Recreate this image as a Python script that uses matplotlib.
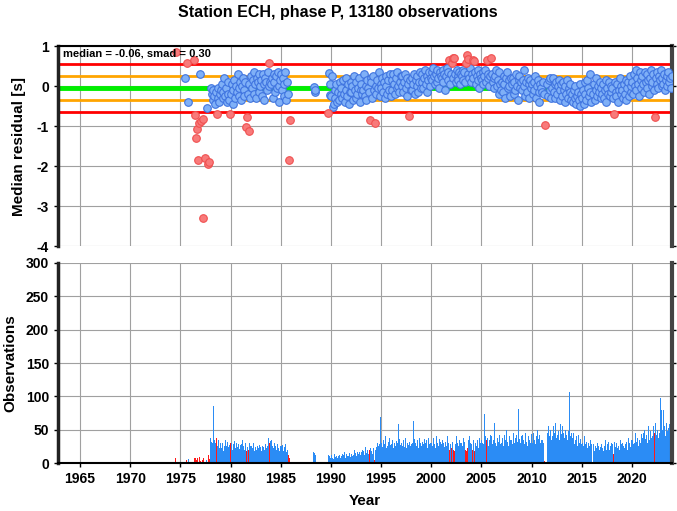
import matplotlib
matplotlib.use("Agg")
import matplotlib.pyplot as plt
import numpy as np

N = None
first_year = 1974
median_res = -0.06
smad_res = 0.30
title = "Station ECH, phase P, 13180 observations"
year_ticks = [1965, 1970, 1975, 1980, 1985, 1990, 1995, 2000, 2005, 2010, 2015, 2020]

# monthly median residuals [s], one row per year
res_1970s = [
    N, N, N, N, N, N, 0.84, N, N, N, N, N,                                  # 1974
    N, N, N, N, N, 0.21, N, 0.57, N, -0.41, N, N,                           # 1975
    N, N, N, N, 0.65, -0.73, -1.30, -1.07, -1.84, N, -0.92, 0.30,           # 1976
    -0.87, N, -0.82, -3.29, N, -1.79, N, -0.54, N, -1.94, -1.90, N,         # 1977
    -0.06, -0.20, -0.35, -0.10, -0.25, -0.45, -0.15, -0.71, -0.30, -0.05, -0.40, -0.20,  # 1978
    -0.10, 0.05, -0.30, -0.15, 0.20, -0.25, -0.05, -0.40, 0.10, -0.20, -0.35, -0.70,     # 1979
]
res_1980s = [
    -0.20, 0.05, -0.45, -0.10, 0.15, -0.30, 0.00, -0.15, 0.30, -0.05, -0.25, 0.10,   # 1980
    -0.35, 0.00, 0.20, -0.10, -0.25, 0.10, -1.03, -0.78, -0.20, -1.13, 0.05, -0.30,  # 1981
    0.25, -0.05, 0.15, -0.20, 0.35, 0.05, -0.30, 0.20, 0.10, -0.15, 0.30, 0.00,      # 1982
    0.15, -0.25, 0.30, 0.05, -0.35, 0.20, 0.10, -0.10, 0.35, 0.00, 0.57, 0.10,       # 1983
    0.05, 0.20, -0.30, 0.30, 0.10, -0.15, 0.25, -0.05, 0.35, 0.00, -0.40, 0.15,      # 1984
    0.30, -0.10, 0.20, -0.25, 0.05, 0.35, -0.35, 0.10, -0.20, -1.85, -0.84, N,       # 1985
    N, N, N, N, N, N, N, N, N, N, N, N,                                              # 1986
    N, N, N, N, N, N, N, N, N, N, N, N,                                              # 1987
    N, N, N, -0.02, -0.14, -0.10, N, N, N, N, N, N,                                  # 1988
    N, N, N, N, N, N, N, N, -0.67, 0.33, -0.22, 0.05,                                # 1989
]
res_1990s = [
    -0.25, 0.26, -0.52, -0.45, -0.10, -0.30, 0.05, -0.40, -0.15, -0.35, 0.10, -0.20,  # 1990
    -0.05, -0.30, 0.15, -0.20, -0.40, 0.20, -0.10, -0.25, 0.05, -0.45, -0.15, 0.10,   # 1991
    -0.15, 0.00, -0.35, 0.25, -0.10, -0.30, 0.10, -0.20, -0.05, 0.20, -0.40, -0.10,   # 1992
    0.05, -0.20, -0.10, 0.30, -0.25, 0.00, -0.35, 0.15, -0.05, -0.15, -0.84, 0.20,    # 1993
    0.10, -0.30, 0.25, -0.10, -0.93, 0.00, -0.20, 0.15, -0.05, 0.35, -0.25, 0.05,     # 1994
    -0.05, 0.20, -0.15, 0.10, -0.30, 0.25, 0.00, -0.20, 0.15, -0.10, 0.30, -0.25,     # 1995
    0.15, -0.10, 0.30, 0.05, -0.20, 0.20, -0.05, 0.35, 0.00, -0.15, 0.10, 0.25,       # 1996
    0.00, 0.25, -0.15, 0.10, 0.30, -0.05, 0.20, -0.25, 0.05, -0.74, 0.15, -0.10,      # 1997
    0.20, -0.10, 0.05, 0.30, -0.20, 0.15, 0.00, 0.25, -0.15, 0.10, 0.35, -0.05,       # 1998
    0.10, 0.30, -0.05, 0.20, 0.40, 0.05, -0.15, 0.25, 0.15, 0.35, 0.00, 0.20,         # 1999
]
res_2000s = [
    0.35, 0.15, 0.45, 0.25, 0.05, 0.30, 0.40, 0.10, 0.20, -0.05, 0.35, 0.25,   # 2000
    0.20, 0.40, 0.10, 0.30, -0.10, 0.25, 0.45, 0.15, 0.35, 0.64, 0.05, 0.30,   # 2001
    0.57, 0.20, 0.69, 0.71, 0.30, 0.10, 0.40, 0.25, 0.15, 0.35, 0.05, 0.30,    # 2002
    0.25, 0.40, 0.15, 0.35, 0.10, 0.57, 0.78, 0.67, 0.30, 0.20, 0.45, 0.10,    # 2003
    0.30, 0.65, 0.20, 0.62, 0.35, 0.05, 0.25, 0.40, 0.15, -0.05, 0.30, 0.20,   # 2004
    0.15, 0.35, 0.05, 0.25, 0.40, 0.10, 0.65, 0.20, 0.30, 0.00, 0.25, 0.71,    # 2005
    0.30, 0.10, 0.20, -0.05, 0.25, 0.40, 0.00, 0.15, -0.20, 0.35, 0.05, -0.10, # 2006
    0.10, -0.15, 0.25, 0.05, -0.30, 0.20, 0.35, -0.05, 0.15, 0.00, -0.25, 0.20, # 2007
    0.05, 0.20, -0.20, 0.10, -0.10, 0.30, 0.00, -0.35, 0.15, 0.25, -0.05, 0.10, # 2008
    -0.10, 0.15, 0.40, 0.00, -0.25, 0.10, -0.15, 0.20, 0.05, -0.30, 0.15, -0.05, # 2009
]
res_2010s = [
    0.05, -0.20, 0.10, -0.10, 0.25, -0.30, 0.00, 0.15, -0.15, -0.40, 0.05, -0.05,    # 2010
    -0.15, 0.10, -0.20, -0.97, N, N, 0.05, -0.25, 0.15, -0.10, 0.20, -0.30,          # 2011
    -0.05, 0.20, -0.15, 0.05, -0.30, 0.10, -0.20, 0.00, 0.15, -0.35, -0.10, 0.05,    # 2012
    -0.25, 0.10, -0.10, -0.40, 0.00, -0.20, 0.15, -0.30, -0.05, -0.15, 0.05, -0.35,  # 2013
    -0.20, -0.40, -0.10, -0.30, 0.00, -0.45, -0.25, -0.15, -0.35, 0.05, -0.50, -0.20, # 2014
    -0.30, -0.10, -0.45, 0.10, -0.20, -0.35, 0.15, -0.05, -0.25, 0.30, -0.15, -0.40, # 2015
    N, -0.20, 0.05, -0.35, -0.10, 0.20, -0.25, 0.00, -0.15, 0.10, -0.30, -0.05,      # 2016
    -0.20, 0.05, -0.30, -0.10, 0.15, -0.40, -0.05, -0.20, 0.10, -0.25, 0.00, -0.15,  # 2017
    -0.05, -0.30, -0.71, 0.10, -0.15, -0.25, 0.05, -0.40, -0.10, 0.20, -0.20, 0.00,  # 2018
    -0.10, -0.30, 0.05, -0.20, 0.15, -0.35, -0.05, 0.10, -0.25, 0.25, -0.15, 0.00,   # 2019
]
res_2020s = [
    0.10, -0.20, 0.30, 0.00, 0.40, -0.10, 0.20, 0.05, -0.25, 0.35, 0.15, -0.05,   # 2020
    0.25, 0.05, -0.15, 0.35, 0.10, -0.05, 0.30, 0.15, -0.20, 0.20, 0.40, 0.00,    # 2021
    0.10, 0.30, -0.10, -0.77, 0.20, 0.05, 0.35, -0.05, 0.25, 0.15, 0.40, 0.00,    # 2022
    0.20, 0.05, 0.30, -0.10, 0.15, 0.25, 0.00, 0.35, 0.10, 0.20, -0.05, 0.25,     # 2023
]

# monthly number of observations, one row per year
cnt_1970s = [
    0, 0, 0, 0, 0, 0, 8, 0, 0, 0, 0, 0,          # 1974
    0, 0, 0, 0, 0, 6, 0, 5, 0, 6, 0, 0,          # 1975
    0, 0, 0, 0, 7, 10, 8, 4, 7, 0, 9, 6,         # 1976
    3, 0, 5, 7, 0, 9, 0, 5, 0, 12, 6, 0,         # 1977
    38, 32, 30, 85, 35, 30, 28, 37, 25, 35, 22, 30,  # 1978
    28, 22, 30, 18, 26, 35, 20, 25, 32, 24, 27, 30,  # 1979
]
cnt_1980s = [
    25, 30, 20, 28, 33, 22, 26, 30, 24, 28, 21, 27,  # 1980
    22, 28, 35, 25, 20, 30, 20, 18, 24, 20, 30, 26,  # 1981
    20, 26, 22, 30, 18, 24, 28, 20, 25, 22, 27, 24,  # 1982
    22, 18, 26, 24, 20, 28, 22, 30, 25, 37, 30, 33,  # 1983
    35, 28, 25, 22, 30, 26, 20, 24, 28, 22, 18, 25,  # 1984
    26, 20, 27, 18, 24, 28, 16, 22, 20, 12, 8, 0,    # 1985
    0, 0, 0, 0, 0, 0, 0, 0, 0, 0, 0, 0,              # 1986
    0, 0, 0, 0, 0, 0, 0, 0, 0, 0, 0, 0,              # 1987
    0, 0, 0, 17, 15, 12, 0, 0, 0, 0, 0, 0,           # 1988
    0, 0, 0, 0, 0, 0, 0, 0, 25, 12, 10, 8,           # 1989
]
cnt_1990s = [
    12, 8, 10, 6, 14, 9, 11, 7, 15, 10, 12, 8,       # 1990
    10, 14, 9, 12, 16, 8, 13, 10, 18, 11, 15, 9,     # 1991
    14, 10, 18, 12, 20, 15, 11, 16, 22, 13, 17, 12,  # 1992
    16, 20, 14, 18, 12, 24, 15, 19, 13, 17, 20, 22,  # 1993
    18, 14, 22, 16, 5, 20, 24, 30, 26, 20, 28, 69,   # 1994
    30, 24, 35, 20, 28, 40, 22, 26, 32, 25, 38, 27,  # 1995
    28, 35, 22, 49, 30, 26, 33, 30, 58, 24, 36, 27,  # 1996
    30, 26, 35, 28, 24, 38, 22, 30, 27, 13, 32, 25,  # 1997
    28, 30, 63, 24, 36, 30, 26, 34, 22, 38, 28, 30,  # 1998
    26, 32, 28, 36, 24, 30, 34, 22, 38, 28, 40, 30,  # 1999
]
cnt_2000s = [
    30, 25, 38, 28, 34, 22, 40, 30, 26, 36, 28, 32,  # 2000
    28, 35, 30, 24, 38, 32, 26, 40, 30, 20, 34, 28,  # 2001
    22, 32, 20, 18, 36, 28, 40, 30, 26, 34, 45, 30,  # 2002
    30, 26, 38, 32, 28, 20, 18, 22, 34, 40, 30, 36,  # 2003
    28, 20, 35, 18, 30, 40, 26, 34, 22, 38, 30, 45,  # 2004
    35, 30, 28, 73, 40, 32, 35, 38, 26, 34, 42, 35,  # 2005
    40, 28, 35, 60, 30, 45, 25, 38, 32, 42, 28, 36,  # 2006
    30, 38, 25, 42, 35, 28, 50, 32, 26, 40, 34, 30,  # 2007
    35, 28, 45, 30, 38, 26, 42, 32, 81, 36, 30, 40,  # 2008
    30, 42, 35, 28, 45, 32, 38, 26, 40, 34, 30, 44,  # 2009
]
cnt_2010s = [
    38, 30, 45, 35, 28, 40, 32, 50, 36, 42, 30, 34,   # 2010
    40, 35, 30, 3, 0, 0, 260, 45, 55, 40, 50, 35,     # 2011
    50, 40, 55, 45, 60, 38, 52, 42, 48, 35, 58, 44,   # 2012
    40, 55, 45, 38, 50, 42, 60, 35, 48, 107, 40, 45,  # 2013
    38, 30, 45, 28, 35, 40, 26, 32, 42, 30, 36, 28,   # 2014
    30, 35, 25, 40, 28, 32, 22, 36, 30, 26, 34, 28,   # 2015
    0, 20, 28, 18, 25, 22, 30, 16, 26, 20, 24, 28,    # 2016
    22, 30, 18, 26, 35, 20, 28, 24, 32, 20, 26, 30,   # 2017
    28, 20, 13, 32, 24, 30, 22, 35, 26, 20, 34, 28,   # 2018
    30, 25, 35, 22, 28, 32, 20, 38, 26, 30, 24, 34,   # 2019
]
cnt_2020s = [
    35, 28, 40, 30, 45, 32, 38, 26, 42, 34, 30, 44,  # 2020
    38, 45, 32, 50, 36, 42, 30, 55, 40, 35, 48, 38,  # 2021
    40, 55, 35, 45, 60, 42, 50, 38, 58, 45, 97, 80,  # 2022
    50, 80, 45, 55, 40, 60, 48, 52, 42, 58, 50, 55,  # 2023
]

res = np.array([np.nan if v is None else v for v in
                res_1970s + res_1980s + res_1990s + res_2000s + res_2010s + res_2020s], float)
cnt = np.array(cnt_1970s + cnt_1980s + cnt_1990s + cnt_2000s + cnt_2010s + cnt_2020s, float)
t = first_year + (np.arange(len(res)) + 0.5) / 12.0
outlier = np.abs(res - median_res) > 2 * smad_res
inlier = np.isfinite(res) & ~outlier

plt.rcParams['font.family'] = ['Liberation Sans', 'DejaVu Sans']
plt.rcParams['font.weight'] = 'bold'

fig = plt.figure(figsize=(6.77, 5.11), dpi=100)
L, W = 58 / 677, 614 / 677
ax1 = fig.add_axes([L, 1 - 246 / 511, W, 200 / 511])
ax2 = fig.add_axes([L, 1 - 463 / 511, W, 200 / 511])

xlim = (1962.8, 2024.0)
grid_c = '#a0a0a0'

for ax in (ax1, ax2):
    ax.set_xlim(*xlim)
    ax.set_xticks(year_ticks)
    ax.grid(True, color=grid_c, lw=0.8, zorder=0)
    ax.set_axisbelow(True)
    ax.spines['left'].set_linewidth(2.5)
    ax.spines['left'].set_color('#222222')
    ax.spines['right'].set_linewidth(3)
    ax.spines['right'].set_color('#444444')
    ax.tick_params(axis='both', direction='out', length=3, width=1, labelsize=10)

# --- top panel
ax1.set_ylim(-4, 1)
ax1.set_yticks([1, 0, -1, -2, -3, -4])
ax1.set_yticklabels(['1', '0', '-1', '-2', '-3', '-4'], fontweight='bold')
ax1.tick_params(axis='x', labelbottom=False, length=0)
ax1.tick_params(axis='y', right=True)
ax1.spines['top'].set_linewidth(1.5)
ax1.spines['bottom'].set_visible(False)

ax1.axhline(median_res + 2 * smad_res, color='#ff0000', lw=2, zorder=2)
ax1.axhline(median_res - 2 * smad_res, color='#ff0000', lw=2, zorder=2)
ax1.axhline(median_res + smad_res, color='#ffa500', lw=2, zorder=2)
ax1.axhline(median_res - smad_res, color='#ffa500', lw=2, zorder=2)
ax1.axhline(median_res, color='#00ee00', lw=3.5, zorder=2)

ax1.scatter(t[inlier], res[inlier], s=30, facecolor='#7fb0f7', edgecolor='#3f74e0',
            linewidths=0.8, zorder=3)
ax1.scatter(t[outlier], res[outlier], s=30, facecolor='#f87a7a', edgecolor='#f05050',
            linewidths=0.8, zorder=3)
ax1.text(0.008, 0.965, f"median = {median_res:.2f}, smad = {smad_res:.2f}",
         transform=ax1.transAxes, ha='left', va='center', fontsize=8, fontweight='bold',
         zorder=5)
ax1.set_ylabel('Median residual [s]', fontsize=11, fontweight='bold', labelpad=8)

# --- bottom panel
ax2.set_ylim(0, 300)
ax2.set_yticks([0, 50, 100, 150, 200, 250, 300])
ax2.set_yticklabels(['0', '50', '100', '150', '200', '250', '300'], fontweight='bold')
ax2.set_xticklabels([str(y) for y in year_ticks], fontweight='bold')
ax2.tick_params(axis='y', right=True)
ax2.spines['top'].set_visible(False)
ax2.spines['bottom'].set_linewidth(1.5)
bar_w = 1 / 12
ax2.bar(t[~outlier], cnt[~outlier], width=bar_w, color='#2b8cf5', linewidth=0, zorder=2)
ax2.bar(t[outlier], cnt[outlier], width=bar_w, color='#ff1a1a', linewidth=0, zorder=2)
ax2.set_ylabel('Observations', fontsize=11, fontweight='bold', labelpad=6)
ax2.set_xlabel('Year', fontsize=11, fontweight='bold', labelpad=6)

fig.text(0.4985, 1 - 12 / 511, title, ha='center', va='center', fontsize=11.5,
         fontweight='bold')

fig.savefig('out.png', dpi=100)
